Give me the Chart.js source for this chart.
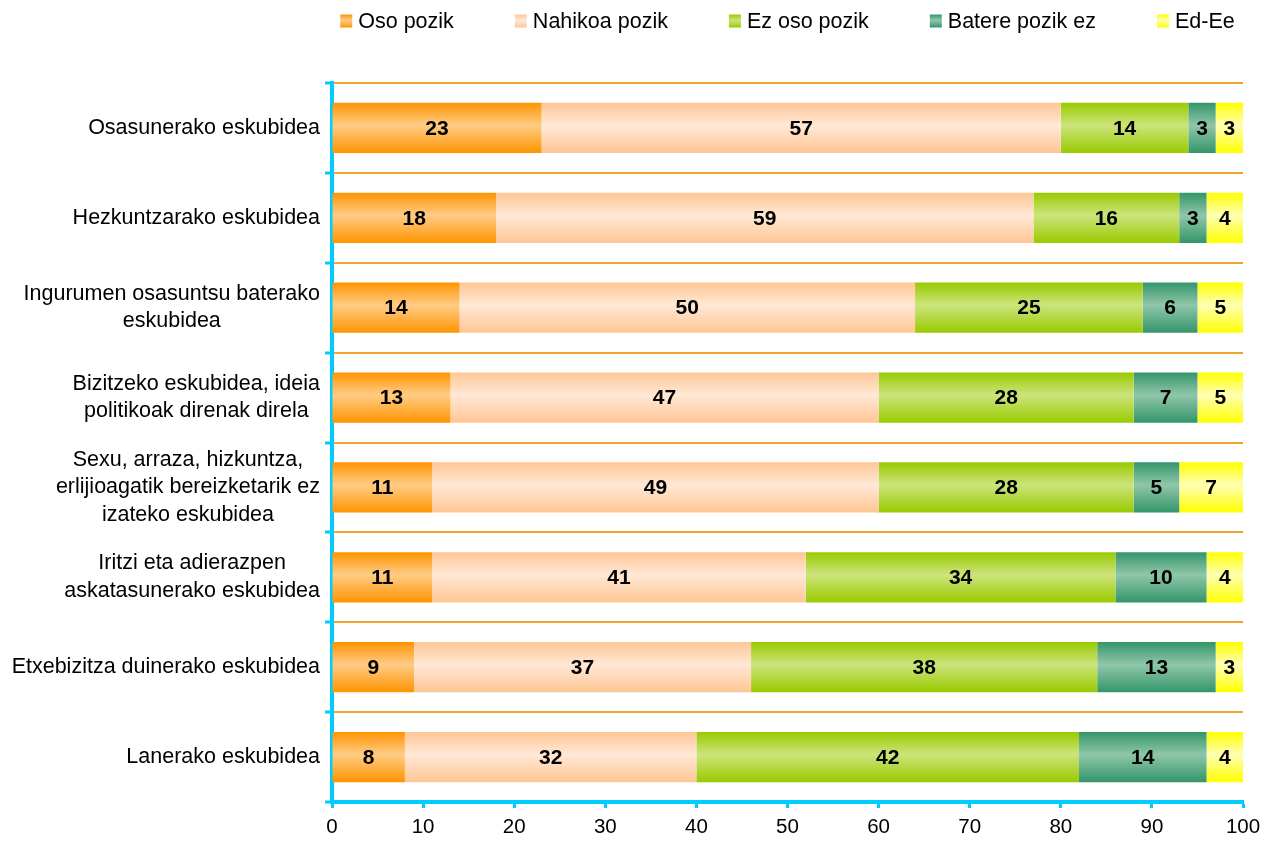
<!DOCTYPE html>
<html>
<head>
<meta charset="utf-8">
<script src="https://cdn.jsdelivr.net/npm/chart.js@4.4.1/dist/chart.umd.min.js"></script>
<style>
  html, body { margin: 0; padding: 0; background: #fff; }
</style>
</head>
<body>
<canvas id="chart" width="1277" height="844"></canvas>
<script>
'use strict'

// eskubideak (kategoriak)
const categories = [
  ['Osasunerako eskubidea'],
  ['Hezkuntzarako eskubidea'],
  ['Ingurumen osasuntsu baterako', 'eskubidea'],
  ['Bizitzeko eskubidea, ideia', 'politikoak direnak direla'],
  ['Sexu, arraza, hizkuntza,', 'erlijioagatik bereizketarik ez', 'izateko eskubidea'],
  ['Iritzi eta adierazpen', 'askatasunerako eskubidea'],
  ['Etxebizitza duinerako eskubidea'],
  ['Lanerako eskubidea']
];
const seriesNames = ['Oso pozik', 'Nahikoa pozik', 'Ez oso pozik', 'Batere pozik ez', 'Ed-Ee'];
const osoPozik      = [23, 18, 14, 13, 11, 11, 9, 8];
const nahikoaPozik  = [57, 59, 50, 47, 49, 41, 37, 32];
const ezOsoPozik    = [14, 16, 25, 28, 28, 34, 38, 42];
const baterePozikEz = [3, 3, 6, 7, 5, 10, 13, 14];
const edEe          = [3, 4, 5, 5, 7, 4, 3, 4];
const xTicks = [0, 10, 20, 30, 40, 50, 60, 70, 80, 90, 100];

const FONT = '"Liberation Sans", Arial, sans-serif';
const TXT = 21.5;
const CYAN = '#00CCFF';
const ORANGE = '#F7A12E';
const BAR_PCT = 0.56;
// [ertza, erdia]
const colors = [
  ['#FF9400', '#FFCC86'],
  ['#FFC694', '#FFE8D6'],
  ['#99CA00', '#CCE47C'],
  ['#33956A', '#90C6AA'],
  ['#FFFF00', '#FFFFB4']
];

function barGradient(edge, center) {
  return function(c) {
    const chart = c.chart;
    const yScale = chart.scales && chart.scales.y;
    if (!chart.chartArea || !yScale || c.dataIndex === undefined) return edge;
    const band = (yScale.bottom - yScale.top) / categories.length;
    const half = band * BAR_PCT / 2;
    const yc = yScale.getPixelForValue(c.dataIndex);
    const g = chart.ctx.createLinearGradient(0, yc - half, 0, yc + half);
    g.addColorStop(0, edge);
    g.addColorStop(0.45, center);
    g.addColorStop(1, edge);
    return g;
  };
}

// balioak barren erdian
const valueLabels = {
  id: 'valueLabels',
  afterDatasetsDraw(chart) {
    const ctx = chart.ctx;
    ctx.save();
    ctx.font = 'bold 21px ' + FONT;
    ctx.fillStyle = '#000';
    ctx.textAlign = 'center';
    ctx.textBaseline = 'middle';
    chart.data.datasets.forEach((ds, i) => {
      chart.getDatasetMeta(i).data.forEach((bar, j) => {
        const p = bar.getProps(['x', 'y', 'base'], true);
        ctx.fillText(String(ds.data[j]), (p.x + p.base) / 2, p.y + 1);
      });
    });
    ctx.restore();
  }
};

// kategoria izenak, lerroak erdiratuta
const categoryLabels = {
  id: 'categoryLabels',
  afterDraw(chart) {
    const ctx = chart.ctx;
    const yScale = chart.scales.y;
    const right = chart.chartArea.left - 12;
    const lh = 27.5;
    ctx.save();
    ctx.font = TXT + 'px ' + FONT;
    ctx.fillStyle = '#000';
    ctx.textAlign = 'center';
    ctx.textBaseline = 'middle';
    categories.forEach((lines, i) => {
      const widest = Math.max(...lines.map(l => ctx.measureText(l).width));
      const cx = right - widest / 2;
      const yc = yScale.getPixelForValue(i);
      lines.forEach((l, k) => {
        ctx.fillText(l, cx, yc - (lines.length - 1) * lh / 2 + k * lh);
      });
    });
    ctx.restore();
  }
};

// legenda goian
const topLegend = {
  id: 'topLegend',
  afterDraw(chart) {
    const ctx = chart.ctx;
    const boxW = 12, boxH = 13, gap = 6, itemGap = 61, y = 21;
    ctx.save();
    ctx.font = TXT + 'px ' + FONT;
    const widths = seriesNames.map(n => boxW + gap + ctx.measureText(n).width);
    const total = widths.reduce((a, b) => a + b, 0) + itemGap * (seriesNames.length - 1);
    let x = (chart.chartArea.left + chart.chartArea.right) / 2 - total / 2;
    seriesNames.forEach((n, i) => {
      const g = ctx.createLinearGradient(0, y - boxH / 2, 0, y + boxH / 2);
      g.addColorStop(0, colors[i][0]);
      g.addColorStop(0.45, colors[i][1]);
      g.addColorStop(1, colors[i][0]);
      ctx.fillStyle = g;
      ctx.fillRect(x, y - boxH / 2, boxW, boxH);
      ctx.fillStyle = '#000';
      ctx.textAlign = 'left';
      ctx.textBaseline = 'middle';
      ctx.fillText(n, x + boxW + gap, y + 1);
      x += widths[i] + itemGap;
    });
    ctx.restore();
  }
};

const seriesValues = [osoPozik, nahikoaPozik, ezOsoPozik, baterePozikEz, edEe];

const ctx = document.getElementById('chart').getContext('2d');
const chart = new Chart(ctx, {
  type: 'bar',
  data: {
    labels: categories,
    datasets: seriesValues.map((vals, i) => ({
      label: seriesNames[i],
      data: vals,
      backgroundColor: barGradient(colors[i][0], colors[i][1]),
      borderWidth: 0,
      barPercentage: BAR_PCT,
      categoryPercentage: 1
    }))
  },
  options: {
    indexAxis: 'y',
    responsive: false,
    devicePixelRatio: 1,
    animation: false,
    layout: { padding: { top: 83, right: 34, bottom: 0, left: 0 } },
    plugins: {
      legend: { display: false },
      tooltip: { enabled: false }
    },
    scales: {
      x: {
        stacked: true,
        min: 0,
        max: 100,
        afterBuildTicks: s => { s.ticks = xTicks.map(v => ({ value: v })); },
        afterFit: s => { s.height = 42; },
        grid: {
          drawOnChartArea: false,
          drawTicks: true,
          tickLength: 6,
          tickWidth: 3,
          tickColor: CYAN
        },
        border: { color: CYAN, width: 4 },
        ticks: {
          color: '#000',
          padding: 7,
          font: { family: FONT, size: 20.5 }
        }
      },
      y: {
        stacked: true,
        afterFit: s => { s.width = 332; },
        grid: {
          offset: true,
          color: c => (c.index === undefined ? 'rgba(0,0,0,0)' : ORANGE),
          lineWidth: 2,
          drawTicks: true,
          tickLength: 7,
          tickWidth: 3,
          tickColor: CYAN
        },
        border: { color: CYAN, width: 4 },
        ticks: { display: false }
      }
    }
  },
  plugins: [valueLabels, categoryLabels, topLegend]
});
</script>
</body>
</html>
